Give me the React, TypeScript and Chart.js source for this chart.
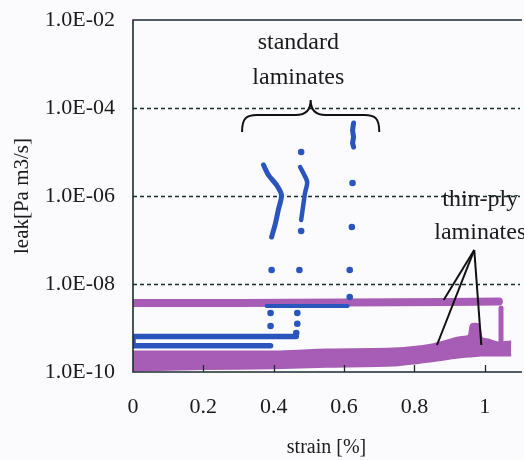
import React, { useEffect, useRef } from 'react';
import { Chart, registerables } from 'chart.js';

Chart.register(...registerables);

// axis ticks
const xTicks = [0, 0.2, 0.4, 0.6, 0.8, 1];
const yTicks = [1e-10, 1e-8, 1e-6, 1e-4, 1e-2];

// thin-ply laminates: lower (wide) band, top and bottom edges
const thinLowStrain = [0, 0.2, 0.4, 0.55, 0.74, 0.85, 0.925, 0.955, 0.962, 0.982, 0.99, 1.01, 1.04, 1.075];
const thinLowTop = [2.85e-10, 2.85e-10, 2.85e-10, 3.16e-10, 3.33e-10, 4.11e-10, 5.93e-10, 6.58e-10, 1.17e-9, 1.17e-9, 5.93e-10, 5.34e-10, 4.56e-10, 4.81e-10];
const thinLowBottom = [1.11e-10, 1.2e-10, 1.25e-10, 1.35e-10, 1.44e-10, 1.8e-10, 2.19e-10, 2.3e-10, 2.3e-10, 2.4e-10, 2.43e-10, 2.43e-10, 2.43e-10, 2.43e-10];
// thin-ply laminates: upper band
const thinHighStrain = [0, 0.3, 0.6, 0.9, 1.04];
const thinHighLeak = [3.7e-9, 3.7e-9, 3.8e-9, 3.9e-9, 4.0e-9];
// thin-ply spike near the end
const thinSpikeStrain = [1.046, 1.046];
const thinSpikeLeak = [2.85e-9, 4.1e-10];

// standard laminates
const stdBaseStrain = [0.464, 0, 0, 0.391];
const stdBaseLeak = [6.4e-10, 6.4e-10, 3.95e-10, 3.95e-10];
const stdMidStrain = [0.38, 0.61];
const stdMidLeak = [3.16e-9, 3.16e-9];
const stdCrackAStrain = [0.371, 0.385, 0.408, 0.422, 0.413, 0.405, 0.394];
const stdCrackALeak = [5.07e-6, 3.0e-6, 1.78e-6, 1.05e-6, 4.81e-7, 2.43e-7, 1.17e-7];
const stdCrackBStrain = [0.475, 0.484, 0.495, 0.489, 0.484, 0.478];
const stdCrackBLeak = [4.56e-6, 3.33e-6, 2.08e-6, 1.17e-6, 6.24e-7, 2.85e-7];
const stdCrackCStrain = [0.627, 0.624, 0.627, 0.624, 0.627];
const stdCrackCLeak = [4.56e-5, 3.16e-5, 2.19e-5, 1.6e-5, 1.3e-5];
const stdDotStrain = [0.391, 0.391, 0.394, 0.478, 0.473, 0.478, 0.467, 0.467, 0.464, 0.624, 0.622, 0.616, 0.616];
const stdDotLeak = [2.19e-9, 1.11e-9, 2.08e-8, 1.0e-5, 2.08e-8, 1.6e-7, 2.2e-9, 1.25e-9, 7.7e-10, 1.97e-6, 1.97e-7, 2.08e-8, 5.07e-9];

const BLUE = '#2a55bd';
const PURPLE = '#a75cb5';
const INK = '#1b1b1b';
const SERIF = '"Liberation Serif", "Times New Roman", serif';

const pts = (xs: number[], ys: number[]) => xs.map((x, i) => ({ x, y: ys[i] }));

const decor = {
  id: 'decor',
  beforeDraw(chart: any) {
    const { ctx, width, height } = chart;
    ctx.save();
    ctx.fillStyle = '#fbfbfd';
    ctx.fillRect(0, 0, width, height);
    ctx.restore();
  },
  beforeDatasetsDraw(chart: any) {
    const { ctx, chartArea: a, scales } = chart;
    const y = scales.y;
    ctx.save();
    ctx.strokeStyle = '#1d2b30';
    ctx.lineWidth = 1.3;
    ctx.setLineDash([4, 3]);
    yTicks.slice(1, -1).forEach((v) => {
      const py = Math.round(y.getPixelForValue(v)) + 0.5;
      ctx.beginPath();
      ctx.moveTo(a.left, py);
      ctx.lineTo(a.right, py);
      ctx.stroke();
    });
    ctx.restore();
  },
  afterDatasetsDraw(chart: any) {
    const { ctx, chartArea: a, scales } = chart;
    const x = scales.x;
    const y = scales.y;
    ctx.save();
    // frame
    ctx.strokeStyle = '#1d2b30';
    ctx.lineWidth = 1.6;
    ctx.beginPath();
    ctx.moveTo(a.right + 2, a.top);
    ctx.lineTo(a.left, a.top);
    ctx.lineTo(a.left, a.bottom);
    ctx.lineTo(a.right + 2, a.bottom);
    ctx.stroke();
    // inward tick marks on x axis
    ctx.lineWidth = 1.3;
    xTicks.slice(1).forEach((v) => {
      const px = Math.round(x.getPixelForValue(v)) + 0.5;
      ctx.beginPath();
      ctx.moveTo(px, a.bottom);
      ctx.lineTo(px, a.bottom - 7);
      ctx.stroke();
    });

    // annotations
    ctx.fillStyle = INK;
    ctx.strokeStyle = '#111';
    ctx.font = `24px ${SERIF}`;
    ctx.textAlign = 'center';
    ctx.textBaseline = 'middle';
    ctx.fillText('standard', x.getPixelForValue(0.47), y.getPixelForValue(3.0e-3));
    ctx.fillText('laminates', x.getPixelForValue(0.47), y.getPixelForValue(4.8e-4));
    ctx.fillText('thin-ply', x.getPixelForValue(0.987), y.getPixelForValue(8.1e-7));
    ctx.fillText('laminates', x.getPixelForValue(0.987), y.getPixelForValue(1.45e-7));

    // curly brace
    const xl = x.getPixelForValue(0.31);
    const xr = x.getPixelForValue(0.70);
    const xm = x.getPixelForValue(0.505);
    const yTip = y.getPixelForValue(1.52e-4);
    const ySh = y.getPixelForValue(6.9e-5);
    const yEnd = y.getPixelForValue(2.85e-5);
    ctx.lineWidth = 2;
    ctx.beginPath();
    ctx.moveTo(xl, yEnd);
    ctx.bezierCurveTo(xl, ySh + 3, xl + 4, ySh, xl + 15, ySh);
    ctx.lineTo(xm - 15, ySh);
    ctx.bezierCurveTo(xm - 5, ySh, xm, ySh - 5, xm, yTip);
    ctx.bezierCurveTo(xm, ySh - 5, xm + 5, ySh, xm + 15, ySh);
    ctx.lineTo(xr - 15, ySh);
    ctx.bezierCurveTo(xr - 4, ySh, xr, ySh + 3, xr, yEnd);
    ctx.stroke();

    // pointer lines for thin-ply
    const ax = x.getPixelForValue(0.97);
    const ay = y.getPixelForValue(5.93e-8);
    const targets: [number, number][] = [
      [0.883, 4.33e-9],
      [0.864, 4.11e-10],
      [0.99, 4.11e-10],
    ];
    ctx.lineWidth = 2;
    targets.forEach(([tx, ty]) => {
      ctx.beginPath();
      ctx.moveTo(ax, ay);
      ctx.lineTo(x.getPixelForValue(tx), y.getPixelForValue(ty));
      ctx.stroke();
    });
    ctx.restore();
  },
};

export default function App() {
  const ref = useRef<HTMLCanvasElement | null>(null);
  useEffect(() => {
    if (!ref.current) return;
    const lineDs = (data: any, color: string, width: number, order: number, tension = 0) => ({
      data,
      borderColor: color,
      backgroundColor: color,
      borderWidth: width,
      pointRadius: 0,
      tension,
      fill: false,
      order,
      borderCapStyle: 'round',
      borderJoinStyle: 'round',
    });
    const chart = new Chart(ref.current, {
      type: 'line',
      data: {
        datasets: [
          lineDs(pts(stdMidStrain, stdMidLeak), BLUE, 4, 1),
          lineDs(pts(stdBaseStrain, stdBaseLeak), BLUE, 5.5, 2),
          lineDs(pts(stdCrackAStrain, stdCrackALeak), BLUE, 5, 3, 0.3),
          lineDs(pts(stdCrackBStrain, stdCrackBLeak), BLUE, 4.5, 4, 0.3),
          lineDs(pts(stdCrackCStrain, stdCrackCLeak), BLUE, 5, 5),
          {
            data: pts(stdDotStrain, stdDotLeak),
            showLine: false,
            pointRadius: 3.3,
            pointBorderWidth: 0,
            pointBackgroundColor: BLUE,
            borderColor: BLUE,
            order: 6,
          },
          lineDs(pts(thinHighStrain, thinHighLeak), PURPLE, 8, 7),
          lineDs(pts(thinSpikeStrain, thinSpikeLeak), PURPLE, 5, 8),
          {
            data: pts(thinLowStrain, thinLowTop),
            borderColor: PURPLE,
            backgroundColor: PURPLE,
            borderWidth: 3,
            pointRadius: 0,
            tension: 0.2,
            fill: '+1',
            order: 9,
          },
          {
            data: pts(thinLowStrain, thinLowBottom),
            borderColor: PURPLE,
            backgroundColor: PURPLE,
            borderWidth: 3,
            pointRadius: 0,
            tension: 0.2,
            fill: false,
            order: 10,
          },
        ] as any,
      },
      options: {
        animation: false,
        responsive: false,
        devicePixelRatio: 1,
        layout: { padding: { top: 20, left: 0, right: 0, bottom: 0 } },
        plugins: { legend: { display: false }, tooltip: { enabled: false } },
        scales: {
          x: {
            type: 'linear',
            min: 0,
            max: 1.1,
            grid: { display: false, drawTicks: false },
            border: { display: false },
            afterBuildTicks: (s: any) => {
              s.ticks = xTicks.map((v) => ({ value: v }));
            },
            afterFit: (s: any) => {
              s.height = 88;
              s.paddingLeft = 0;
              s.paddingRight = 0;
            },
            ticks: {
              autoSkip: false,
              maxRotation: 0,
              padding: 22,
              color: INK,
              font: { family: SERIF, size: 22 },
              callback: (v: any) => String(Number(Number(v).toFixed(1))),
            },
            title: {
              display: true,
              text: 'strain [%]',
              color: INK,
              font: { family: SERIF, size: 20 },
              padding: { top: 0, bottom: 0 },
            },
          },
          y: {
            type: 'logarithmic',
            min: 1e-10,
            max: 1e-2,
            grid: { display: false, drawTicks: false },
            border: { display: false },
            afterBuildTicks: (s: any) => {
              s.ticks = yTicks.map((v) => ({ value: v }));
            },
            afterFit: (s: any) => {
              s.width = 133;
              s.paddingTop = 0;
              s.paddingBottom = 0;
            },
            ticks: {
              autoSkip: false,
              padding: 18,
              color: INK,
              font: { family: SERIF, size: 22 },
              callback: (v: any) => {
                const e = Math.round(Math.log10(Number(v)));
                return '1.0E-' + String(-e).padStart(2, '0');
              },
            },
            title: {
              display: true,
              text: 'leak[Pa m3/s]',
              color: INK,
              font: { family: SERIF, size: 21 },
              padding: { top: 10, bottom: 0 },
            },
          },
        },
      } as any,
      plugins: [decor],
    });
    return () => chart.destroy();
  }, []);

  return (
    <div style={{ position: 'fixed', left: 0, top: 0, width: 524, height: 460 }}>
      <canvas ref={ref} width={524} height={460} />
    </div>
  );
}
